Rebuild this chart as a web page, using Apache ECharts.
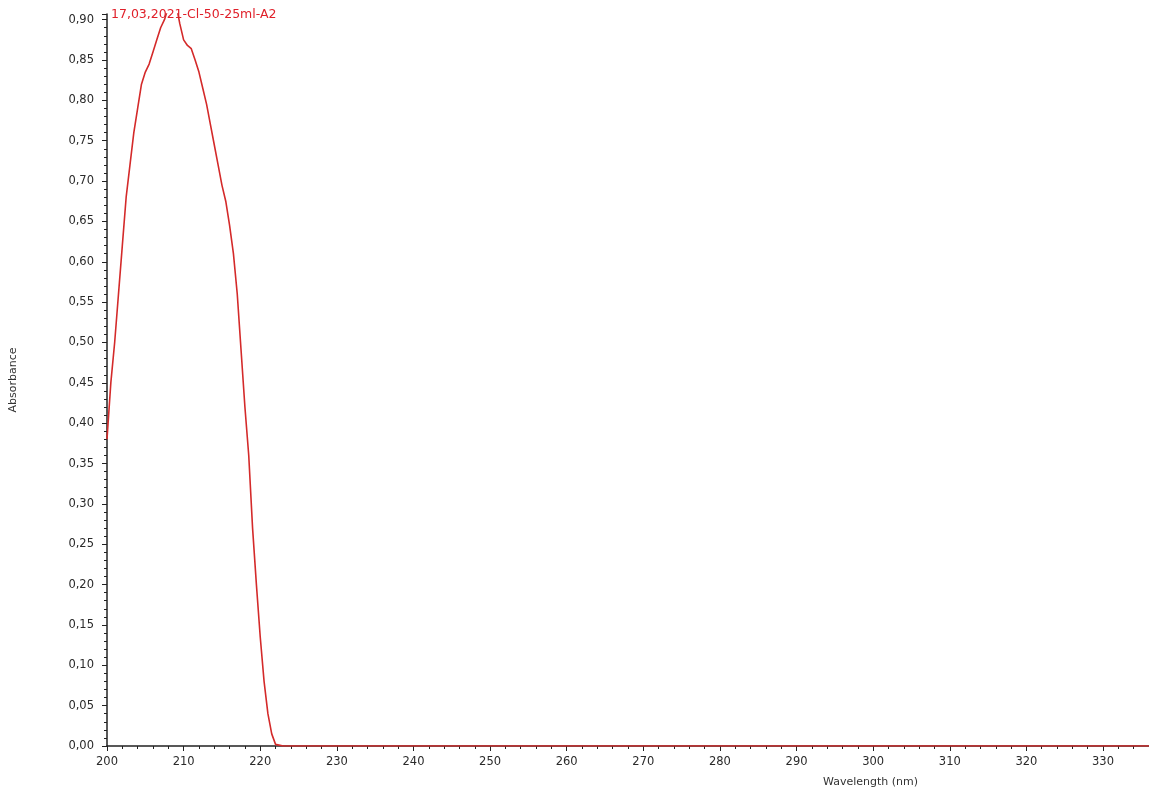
<!DOCTYPE html>
<html>
<head>
<meta charset="utf-8">
<script src="https://cdn.jsdelivr.net/npm/echarts@6/dist/echarts.min.js"></script>
<style>html,body{margin:0;padding:0;background:#fff}#c{width:1149px;height:791px}</style>
</head>
<body>
<div id="c"></div>
<script>
const sampleName = "17,03,2021-Cl-50-25ml-A2";
const wavelengths = [200.0,200.5,201.0,201.5,202.0,202.5,203.0,203.5,204.0,204.5,205.0,205.5,206.0,206.5,207.0,207.5,208.0,208.5,209.0,209.5,210.0,210.5,211.0,211.5,212.0,212.5,213.0,213.5,214.0,214.5,215.0,215.5,216.0,216.5,217.0,217.5,218.0,218.5,219.0,219.5,220.0,220.5,221.0,221.5,222.0,223,225,230,240,250,260,270,280,290,300,310,320,330,336];
const absorbance = [0.38,0.45,0.50,0.56,0.62,0.68,0.72,0.76,0.79,0.82,0.835,0.845,0.86,0.875,0.89,0.90,0.915,0.925,0.92,0.895,0.875,0.868,0.864,0.85,0.835,0.815,0.795,0.77,0.745,0.72,0.695,0.675,0.645,0.61,0.56,0.49,0.42,0.36,0.27,0.20,0.135,0.08,0.04,0.015,0.002,0.0,0.0,0.0,0.0,0.0,0.0,0.0,0.0,0.0,0.0,0.0,0.0,0.0,0.0];
const xAxisName = "Wavelength (nm)";
const yAxisName = "Absorbance";

const FONT = 'DejaVu Sans, Verdana, sans-serif';
const chart = echarts.init(document.getElementById('c'), null, {renderer:'canvas'});
const data = wavelengths.map((w,i)=>[w, absorbance[i]]);
chart.setOption({
  animation:false,
  backgroundColor:'#fff',
  grid:{left:107, right:0, top:14, bottom:45, containLabel:false},
  xAxis:{
    type:'value', min:200, max:336, interval:10,
    axisLine:{show:true, lineStyle:{color:'#222', width:1.5}},
    axisTick:{show:true, length:5, lineStyle:{color:'#222'}},
    minorTick:{show:true, splitNumber:5, length:3, lineStyle:{color:'#222'}},
    splitLine:{show:false},
    axisLabel:{color:'#2a2a2a', fontSize:11.5, fontFamily:FONT, margin:10, showMaxLabel:false},
  },
  yAxis:{
    type:'value', min:0, max:0.907, interval:0.05,
    name:yAxisName, nameLocation:'middle', nameGap:88,
    nameTextStyle:{color:'#333', fontSize:11, fontFamily:FONT},
    axisLine:{show:true, lineStyle:{color:'#222', width:1.5}},
    axisTick:{show:true, length:5, lineStyle:{color:'#222'}},
    minorTick:{show:true, splitNumber:5, length:3, lineStyle:{color:'#222'}},
    splitLine:{show:false},
    axisLabel:{color:'#2a2a2a', fontSize:11.5, fontFamily:FONT, margin:13, showMaxLabel:false,
      formatter:v=>v.toFixed(2).replace('.',',')}
  },
  graphic:[
    {type:'text', left:823, top:777, style:{text:xAxisName, fill:'#333', font:'11px DejaVu Sans, Verdana, sans-serif'}},
    {type:'text', left:111, top:8, z:1, style:{text:sampleName, fill:'#e0202a', font:'12.5px DejaVu Sans, Verdana, sans-serif'}}
  ],
  series:[{
    type:'line', data:data, showSymbol:false, smooth:false, z:5,
    lineStyle:{color:'#d42a2a', width:1.6}
  }]
});
</script>
</body>
</html>
